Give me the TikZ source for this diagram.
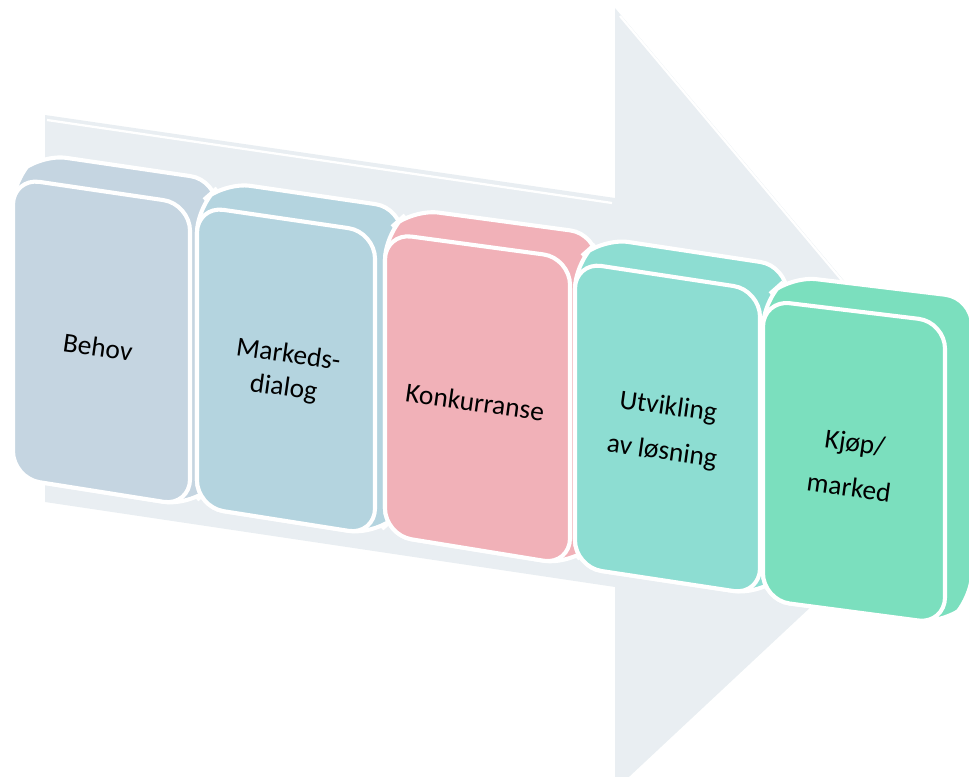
\documentclass[tikz,border=0pt]{standalone}
\usepackage{fontspec}
\setmainfont{Carlito}
\definecolor{arrowgray}{HTML}{E9EEF2}
\definecolor{cA}{HTML}{C5D5E1}
\definecolor{cB}{HTML}{B4D4DF}
\definecolor{cC}{HTML}{F1B1B8}
\definecolor{cD}{HTML}{8DDDD2}
\definecolor{cE}{HTML}{7BDFBE}
\newcommand\mkblock[5]{%
  \path[fill=#1,face] (#2) -- ([shift={(27,-24)}]#2) -- ([shift={(27,-24)}]#3) -- ([shift={(27,-24)}]#4) -- (#4) -- (#5) -- cycle;
  \path[fill=#1,face] (#2) -- (#3) -- (#4) -- (#5) -- cycle;
}
\begin{document}
\begin{tikzpicture}[x=0.025cm,y=-0.025cm,
  face/.style={draw=white,line width=2.9pt,rounded corners=19pt},
  lbl/.style={rotate=-8,align=center,font=\fontsize{19.5}{32}\selectfont,text=black,inner sep=0pt},
  edgehi/.style={draw=white,line width=1.6pt}]
\useasboundingbox (0,0) rectangle (969,777);
\begin{scope}
\clip (0,0) rectangle (969,777);
\fill[arrowgray] (45,115) -- (615,198) -- (615,8) -- (983,446) -- (615,790) -- (615,587) -- (45,502) -- cycle;
\draw[edgehi] (47,120) -- (612,203);
\draw[edgehi] (620,16) -- (850,290);
\mkblock{cA}{13,178}{190,204}{190,506}{13,478}
\mkblock{cB}{197,206}{375,232}{375,535}{197,507}
\mkblock{cC}{385,233}{570,258}{570,565}{385,535}
\mkblock{cD}{575,262}{760,290}{760,595}{575,567}
\mkblock{cE}{763,300}{945,322}{945,624}{763,600}
\end{scope}
\node[lbl] (t1) at (98,347) {Behov};
\node[lbl,font=\fontsize{19.5}{24}\selectfont] (t2) at (286,372) {Markeds-\\dialog};
\node[lbl] (t3) at (475,402) {Konkurranse};
\node[lbl] (t4) at (665,430) {Utvikling\\av løsning};
\node[lbl] (t5) at (852,465) {Kjøp/\\marked};
\end{tikzpicture}
\end{document}
